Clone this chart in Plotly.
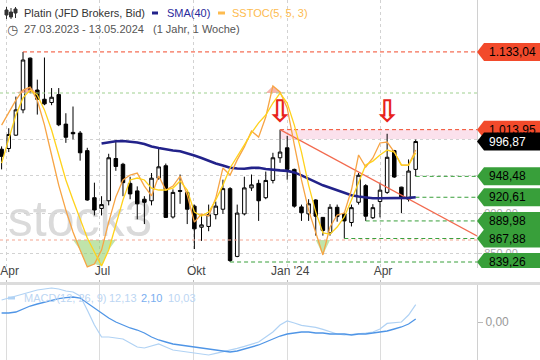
import math
import pandas as pd
import plotly.graph_objects as go

# ---------------- data (weekly candles, Platin JFD Brokers, Bid) ----------------
first_week = "2023-03-27"
opens = [986, 987, 1006, 1043, 1123, 1073, 1059, 1054, 1066, 1022,
         1010, 1009, 984, 920, 906, 916, 973, 965, 939, 929,
         918, 916, 946, 963, 895, 929.5, 927, 909, 882, 883,
         898, 905, 932, 846, 899, 933, 939, 920, 943, 974,
         988, 958, 908, 899, 917, 894.5, 875, 907.5, 899, 888,
         914, 936, 894, 915, 927, 984, 934, 918, 958]
highs = [990, 1016, 1063, 1133.04, 1124, 1089, 1124, 1076, 1076, 1038,
         1048, 1012, 988, 940, 922, 979.6, 998, 967, 948, 935,
         922, 953, 988, 966, 931, 951, 929, 911, 898, 911,
         915, 944, 934, 911, 948, 951, 944, 955, 981, 1013.95,
         1005, 959, 911, 918, 918, 895, 911.6, 911, 901, 911,
         953, 938, 911.6, 940, 1008, 985, 934.5, 971.7, 999.7]
lows = [958, 982, 1005, 1038, 1068, 1036, 1050, 1050, 1019, 995,
        1000, 970, 916, 897, 897, 910, 956, 922, 918, 892,
        886, 910, 944, 894, 893, 912, 886, 855, 865, 877,
        892, 899, 839.26, 845, 897, 929, 890, 918, 939, 967,
        944, 907, 890, 890, 871.5, 871.5, 871.5, 889, 867.88, 883,
        911, 889.98, 892.4, 894.5, 925, 946.4, 899.9, 915, 948.48]
closes = [976, 1007, 1043, 1120, 1073, 1059, 1052, 1062, 1021, 1003,
          1008, 981, 917, 904, 911, 974, 962, 940, 925, 912,
          914, 946, 961.5, 894.5, 927, 928.5, 905, 880, 885, 898,
          909, 932, 841, 900, 933, 937, 916, 943, 974, 982,
          958, 909, 900.5, 912, 896, 878, 907.5, 895.5, 890, 907,
          950, 896, 907, 930, 974.7, 947.6, 920.6, 955.7, 996.87]
week_dates = pd.date_range(first_week, periods=len(opens), freq="7D")

sma40 = [None] * 14 + [
    994.0, 995.4, 997.3, 997.6, 996.9, 995.4, 993.3, 989.8, 987.7, 985.6,
    984.2, 983.2, 980.7, 977.2, 973.7, 969.6, 966.2, 963.4, 960.3, 959.3,
    958.9, 960.0, 960.3, 958.6, 957.3, 956.6, 955.9, 953.9, 949.8, 945.1,
    940.4, 936.4, 933.1, 929.8, 925.8, 923.2, 921.5, 920.2, 919.3, 919.3,
    919.3, 919.3, 919.3, 919.8, 920.6]

stoch_k = [66.9, 72.2, 77.1, 81.2, 82.4, 77.0, 67.0, 54.7, 42.4, 32.2,
           23.3, 15.9, 9.0, 10.2, 15.9, 27.3, 37.6, 44.5, 46.5, 47.3,
           42.0, 38.0, 46.1, 40.4, 42.0, 46.1, 38.4, 27.3, 30.6, 29.8,
           37.1, 49.4, 46.5, 52.7, 58.0, 64.5, 62.0, 70.2, 82.9, 80.4,
           73.9, 58.8, 44.5, 32.2, 22.9, 13.9, 25.3, 30.2, 31.0, 40.4,
           54.7, 49.8, 53.5, 59.6, 60.0, 55.9, 50.6, 50.6, 56.7]
stoch_d = [51.4, 60.8, 71.0, 78.0, 81.2, 79.2, 73.1, 64.9, 54.7, 44.5,
           36.3, 28.2, 20.8, 15.1, 9.4, 15.9, 26.1, 36.3, 44.5, 45.3,
           44.5, 41.2, 40.4, 40.4, 41.2, 44.1, 40.4, 31.4, 29.8, 31.4,
           36.3, 42.4, 49.4, 53.9, 58.8, 63.7, 67.8, 71.0, 75.9, 80.0,
           75.9, 66.9, 55.9, 42.4, 31.4, 22.9, 22.4, 25.3, 29.4, 36.3,
           43.7, 50.6, 52.2, 54.7, 56.7, 55.9, 50.6, 50.6, 55.5]
stoch_upper = 80
stoch_lower = 20

macd = [15.4, 16.8, 18.2, 19.6, 21.0, 22.4, 23.1, 23.8, 23.1, 21.7,
        21.0, 18.2, 8.4, -2.1, -10.5, -10.5, -11.2, -11.9, -14.7, -17.5,
        -18.2, -16.8, -15.4, -17.5, -19.6, -20.3, -21.0, -21.7, -22.4, -23.1,
        -22.0, -21.0, -19.9, -18.5, -17.1, -15.4, -14.0, -10.5, -7.0, -2.1,
        0.7, -0.7, -2.4, -3.1, -3.8, -5.2, -7.0, -8.4, -9.1, -8.7,
        -8.4, -7.7, -7.0, -4.9, -1.0, -0.3, 0.0, 4.9, 12.1]
macd_signal = [6.3, 6.3, 7.0, 9.1, 11.2, 12.6, 14.0, 15.4, 16.4, 17.1,
               17.5, 16.8, 13.3, 9.8, 6.3, 2.8, 0.0, -2.1, -4.2, -5.6,
               -7.7, -10.5, -12.6, -14.0, -15.4, -16.1, -16.8, -17.5, -18.2, -18.9,
               -19.6, -20.3, -21.0, -20.3, -18.9, -17.5, -16.1, -14.0, -11.9, -9.8,
               -8.4, -7.7, -7.0, -7.0, -7.7, -7.7, -8.4, -8.4, -8.4, -9.1,
               -8.4, -8.4, -7.7, -7.0, -6.3, -4.9, -3.5, -1.4, 2.1]

# price levels marked on the right axis
level_values = [1133.04, 1013.95, 996.87, 948.48, 920.61, 889.98, 867.88, 839.26]
level_labels = ["1.133,04", "1.013,95", "996,87", "948,48", "920,61", "889,98", "867,88", "839,26"]
level_kinds = ["res", "res", "last", "sup", "sup", "sup", "sup", "sup"]
level_start_idx = [3, 39, None, 58, 56, 51, 48, 32]

band_low, band_high, band_start_idx = 1000.4, 1013.95, 39
trend_start_idx, trend_start_price, trend_end_price = 39, 1013.95, 871.0
signal_arrow_idx = [39, 54]
signal_arrow_price = [1037, 1037]

month_ticks = ["2023-04-01", "2023-07-01", "2023-10-01", "2024-01-01", "2024-04-01"]
month_labels = ["Apr", "Jul", "Okt", "Jan '24", "Apr"]
price_ticks = [850, 900, 950, 1000]
price_tick_labels = ["850,00", "900,00", "", ""]   # 950/1000 labels sit under the price tags

x_range = ["2023-03-25 10:20", "2024-07-05 02:24"]
y_range_log = [2.920178, 3.086452]
stoch_range = [8.57, 117.96]
macd_range = [-26.6, 25.9]

# ---------------- styling ----------------
W, H = 540, 360
PLOT_W = 477
FONT = "Liberation Sans, Arial, sans-serif"
RED, GREEN, NAVY = "#f24a2b", "#389f3a", "#22228a"
K_COL, D_COL = "#f7a444", "#ffd21c"
MACD_COL, SIG_COL = "#b0d2f4", "#4f95e6"
kind_color = {"res": RED, "sup": GREEN, "last": "#000000"}

fig = go.Figure()

# dashed level lines
for v, kind, si in zip(level_values, level_kinds, level_start_idx):
    if si is None:
        continue
    fig.add_trace(go.Scatter(x=[week_dates[si], x_range[1]], y=[v, v], mode="lines",
                             line=dict(color=kind_color[kind], width=1, dash="4px,3px"),
                             hoverinfo="skip", showlegend=False, xaxis="x", yaxis="y"))

# candles
fig.add_trace(go.Candlestick(
    x=week_dates, open=opens, high=highs, low=lows, close=closes,
    increasing=dict(line=dict(color="#000000", width=1), fillcolor="#ffffff"),
    decreasing=dict(line=dict(color="#000000", width=1), fillcolor="#000000"),
    whiskerwidth=0, showlegend=False, hoverinfo="skip", xaxis="x", yaxis="y"))

# trend line
fig.add_trace(go.Scatter(x=[week_dates[trend_start_idx], x_range[1]],
                         y=[trend_start_price, trend_end_price], mode="lines",
                         line=dict(color="#f26a4e", width=1.2), hoverinfo="skip",
                         showlegend=False, xaxis="x", yaxis="y"))

# SMA(40)
fig.add_trace(go.Scatter(x=week_dates, y=sma40, mode="lines",
                         line=dict(color=NAVY, width=2.6), hoverinfo="skip",
                         showlegend=False, xaxis="x", yaxis="y"))

# signal arrows
fig.add_trace(go.Scatter(x=[week_dates[i] for i in signal_arrow_idx], y=signal_arrow_price,
                         mode="text", text=["\u21e9"] * len(signal_arrow_idx),
                         textfont=dict(size=31, color="#e8231b", family="DejaVu Sans",
                                       weight="bold"),
                         hoverinfo="skip", showlegend=False, xaxis="x", yaxis="y"))

# stochastic (overlay axis)
ob = [max(k, d, stoch_upper) for k, d in zip(stoch_k, stoch_d)]
osd = [min(k, d, stoch_lower) for k, d in zip(stoch_k, stoch_d)]
n = len(week_dates)
fig.add_trace(go.Scatter(x=week_dates, y=[stoch_upper] * n, mode="lines", line=dict(width=0),
                         hoverinfo="skip", showlegend=False, xaxis="x", yaxis="y2"))
fig.add_trace(go.Scatter(x=week_dates, y=ob, mode="lines", line=dict(width=0), fill="tonexty",
                         fillcolor="rgba(238,120,105,0.55)", hoverinfo="skip", showlegend=False,
                         xaxis="x", yaxis="y2"))
fig.add_trace(go.Scatter(x=week_dates, y=[stoch_lower] * n, mode="lines", line=dict(width=0),
                         hoverinfo="skip", showlegend=False, xaxis="x", yaxis="y2"))
fig.add_trace(go.Scatter(x=week_dates, y=osd, mode="lines", line=dict(width=0), fill="tonexty",
                         fillcolor="rgba(140,205,100,0.55)", hoverinfo="skip", showlegend=False,
                         xaxis="x", yaxis="y2"))
fig.add_trace(go.Scatter(x=x_range, y=[stoch_upper] * 2, mode="lines",
                         line=dict(color="#9fd08f", width=1, dash="dot"), hoverinfo="skip",
                         showlegend=False, xaxis="x", yaxis="y2"))
fig.add_trace(go.Scatter(x=x_range, y=[stoch_lower] * 2, mode="lines",
                         line=dict(color="#f4a592", width=1, dash="dot"), hoverinfo="skip",
                         showlegend=False, xaxis="x", yaxis="y2"))
fig.add_trace(go.Scatter(x=week_dates, y=stoch_k, mode="lines", line=dict(color=K_COL, width=1.3),
                         hoverinfo="skip", showlegend=False, xaxis="x", yaxis="y2"))
fig.add_trace(go.Scatter(x=week_dates, y=stoch_d, mode="lines", line=dict(color=D_COL, width=1.3),
                         hoverinfo="skip", showlegend=False, xaxis="x", yaxis="y2"))

# MACD panel
fig.add_trace(go.Scatter(x=week_dates, y=macd, mode="lines", line=dict(color=MACD_COL, width=1.2),
                         hoverinfo="skip", showlegend=False, xaxis="x2", yaxis="y3"))
fig.add_trace(go.Scatter(x=week_dates, y=macd_signal, mode="lines", line=dict(color=SIG_COL, width=1.3),
                         hoverinfo="skip", showlegend=False, xaxis="x2", yaxis="y3"))

# ---------------- shapes & annotations ----------------
shapes = []
annotations = []

def px_x(px):
    return px / PLOT_W

def px_y(py):
    return 1 - py / H

# resistance band
shapes.append(dict(type="rect", xref="x", yref="y", x0=week_dates[band_start_idx], x1=x_range[1],
                   y0=band_low, y1=band_high, line=dict(width=0),
                   fillcolor="rgba(245,175,205,0.38)", layer="below"))

# watermark
shapes.append(dict(type="rect", xref="paper", yref="paper", x0=px_x(4), x1=px_x(156),
                   y0=px_y(242), y1=px_y(186), line=dict(width=0), fillcolor="rgba(0,0,0,0)",
                   layer="below",
                   label=dict(text="stock3", textposition="middle center",
                              font=dict(size=50, color="#dadada", family=FONT))))

# panel separator
shapes.append(dict(type="rect", xref="paper", yref="paper", x0=0, x1=W / PLOT_W,
                   y0=px_y(285), y1=px_y(282), line=dict(width=0), fillcolor="#dcdcdc"))

# right-axis tags
tag_f = 10 ** (9 / 1611.8)
tip, shoulder, right_edge = 1.0, (PLOT_W + 7) / PLOT_W, (W + 5) / PLOT_W
for v, lab, kind in zip(level_values, level_labels, level_kinds):
    col = kind_color[kind]
    path = (f"M {tip},{v} L {shoulder},{v * tag_f} L {right_edge},{v * tag_f} "
            f"L {right_edge},{v / tag_f} L {shoulder},{v / tag_f} Z")
    shapes.append(dict(type="path", xref="paper", yref="y", path=path,
                       fillcolor=col, line=dict(width=0), layer="above"))
    annotations.append(dict(xref="paper", yref="y", x=(PLOT_W + 10) / PLOT_W, y=math.log10(v),
                            xanchor="left", yanchor="middle", showarrow=False, text=lab,
                            font=dict(size=12, color="#ffffff" if kind == "last" else "#000000",
                                      family=FONT)))

# header icon (mini candles)
for cx, top, bot, b0, b1 in [(6.5, 7, 19, 10, 15), (11, 8, 19, 12, 17), (15.5, 7, 18, 9, 13)]:
    shapes.append(dict(type="line", xref="paper", yref="paper", x0=px_x(cx), x1=px_x(cx),
                       y0=px_y(bot), y1=px_y(top), line=dict(color="#333333", width=1)))
    shapes.append(dict(type="rect", xref="paper", yref="paper", x0=px_x(cx - 1.5), x1=px_x(cx + 1.5),
                       y0=px_y(b1), y1=px_y(b0), line=dict(color="#333333", width=1),
                       fillcolor="#333333"))

# legend bars
shapes.append(dict(type="rect", xref="paper", yref="paper", x0=px_x(152), x1=px_x(158),
                   y0=px_y(14.5), y1=px_y(11.5), line=dict(width=0), fillcolor=NAVY))
shapes.append(dict(type="rect", xref="paper", yref="paper", x0=px_x(218), x1=px_x(225),
                   y0=px_y(14.5), y1=px_y(11.5), line=dict(width=0), fillcolor="#fdbb4f"))
shapes.append(dict(type="rect", xref="paper", yref="paper", x0=px_x(8), x1=px_x(15),
                   y0=px_y(299.5), y1=px_y(296.5), line=dict(width=0), fillcolor=MACD_COL))

def text_ann(px, py, txt, color, size=11, family=FONT):
    annotations.append(dict(xref="paper", yref="paper", x=px_x(px), y=px_y(py), xanchor="left",
                            yanchor="middle", showarrow=False, text=txt,
                            font=dict(size=size, color=color, family=family)))

text_ann(22, 13.5, "Platin (JFD Brokers, Bid)", "#333333")
text_ann(164.5, 13.5, "SMA(40)", "#2a2a9c")
text_ann(230, 13.5, "SSTOC(5, 5, 3)", "#fdbb4f")
text_ann(5, 29, "\u25f7", "#555555", size=13, family="DejaVu Sans")
text_ann(22, 29, "27.03.2023 - 13.05.2024", "#555555")
text_ann(151, 29, "(1 Jahr, 1 Woche)", "#555555")
text_ann(22, 298, "MACD(12, 26, 9)", "#bcd6f3")
text_ann(107, 298, "12,13", "#bcd6f3")
text_ann(139, 298, "2,10", "#79aef0")
text_ann(166, 298, "10,03", "#bcd6f3")

fig.update_layout(
    width=W, height=H, margin=dict(l=0, r=W - PLOT_W, t=0, b=0),
    paper_bgcolor="#ffffff", plot_bgcolor="#ffffff",
    font=dict(family=FONT), showlegend=False, hovermode=False,
    shapes=shapes, annotations=annotations,
    xaxis=dict(domain=[0, 1], range=x_range, type="date", anchor="y",
               tickvals=month_ticks, showticklabels=False, ticks="",
               showgrid=True, gridcolor="#d2d2d2", griddash="dot", gridwidth=1,
               zeroline=False, showline=False, rangeslider=dict(visible=False)),
    xaxis2=dict(domain=[0, 1], range=x_range, type="date", anchor="y3", side="top",
                tickvals=month_ticks, ticktext=month_labels,
                tickfont=dict(size=12, color="#444444"), ticks="outside", ticklen=4,
                tickcolor="#bbbbbb", showgrid=True, gridcolor="#dcdcdc", zeroline=False,
                showline=False, ticklabeloverflow="allow", ticklabelshift=3),
    yaxis=dict(domain=[1 - 268 / H, 1], type="log", range=y_range_log, side="right", anchor="x",
               tickvals=price_ticks, ticktext=price_tick_labels,
               tickfont=dict(size=11, color="#aaaaaa"), ticks="outside", ticklen=4,
               tickcolor="#cccccc", showgrid=True, gridcolor="#d2d2d2", griddash="dot",
               zeroline=False, showline=True, linecolor="#d0d0d0"),
    yaxis2=dict(overlaying="y", range=stoch_range, visible=False, anchor="x"),
    yaxis3=dict(domain=[0, 1 - 285 / H], range=macd_range, side="right", anchor="x2",
                tickvals=[0], ticktext=["0,00"], tickfont=dict(size=12, color="#999999"),
                ticks="outside", ticklen=5, tickcolor="#bbbbbb", showgrid=False,
                zeroline=False, showline=True, linecolor="#d0d0d0"),
)

fig.write_html("out.html", include_plotlyjs=True, full_html=True,
               config={"displayModeBar": False, "staticPlot": True},
               post_script="document.body.style.margin='0';document.body.style.overflow='hidden';")
